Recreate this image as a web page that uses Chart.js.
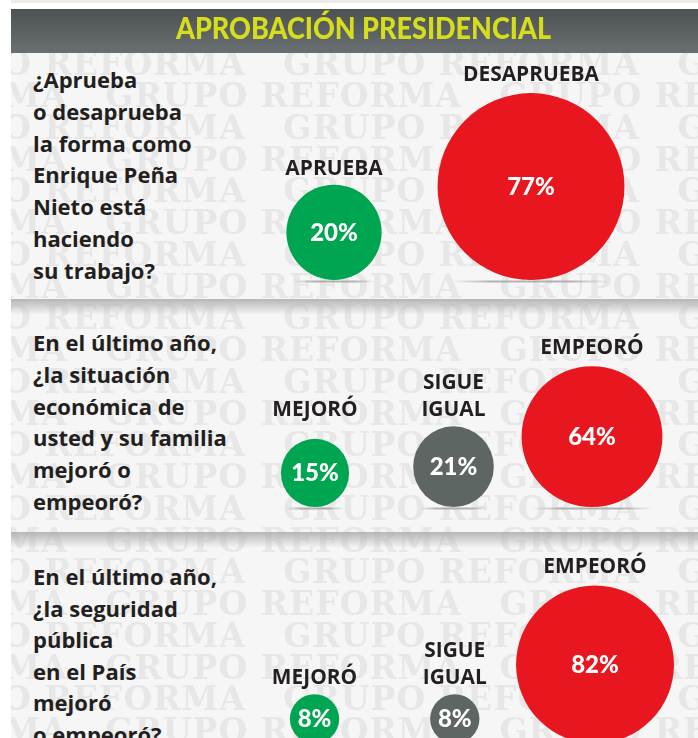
<!DOCTYPE html>
<html><head><meta charset="utf-8">
<script src="https://cdn.jsdelivr.net/npm/chart.js@4/dist/chart.umd.min.js"></script>
<style>
html,body{margin:0;padding:0;width:698px;height:738px;overflow:hidden;background:#fff;}
#wrap{position:relative;width:698px;height:738px;overflow:hidden;}
.strip{position:absolute;left:11px;top:0;width:687px;height:3px;background:#eeebe6;}
.header{position:absolute;left:11px;top:9px;width:687px;height:44px;background:linear-gradient(#4c5153,#6a6f71);}
#title{position:absolute;top:9px;height:44px;line-height:46px;color:#d5dd1c;font:900 30px 'Lato';white-space:nowrap;transform-origin:0 50%;}
#wm{position:absolute;left:11px;top:53px;width:687px;height:685px;background:#f6f6f6;overflow:hidden;}
.wmrow{position:absolute;white-space:nowrap;font:700 33px 'DejaVu Serif';color:#e7e7e7;letter-spacing:1px;line-height:34px;filter:blur(0.6px);}
.sep{position:absolute;left:11px;width:687px;height:16px;background:linear-gradient(rgba(175,175,175,0.9),rgba(246,246,246,0));}
.q{position:absolute;left:33px;font:700 22px 'Open Sans';color:#231f20;white-space:pre;}
canvas{position:absolute;left:0;}
</style></head>
<body><div id="wrap">
<div class="strip"></div>
<div class="header"></div>
<div id="title"></div>
<div id="wm"></div>
<div class="sep" style="top:299px"></div>
<div class="sep" style="top:532px"></div>
<div class="q" id="q1" style="top:64px;line-height:31.8px"></div>
<div class="q" id="q2" style="top:327px;line-height:31.8px"></div>
<div class="q" id="q3" style="top:561px;line-height:31.5px"></div>
<canvas id="c1"></canvas>
<canvas id="c2"></canvas>
<canvas id="c3"></canvas>
</div>
<script>
// ---- DATA ----
const chartTitle = 'APROBACIÓN PRESIDENCIAL';
const question1 = ['¿Aprueba', 'o desaprueba', 'la forma como', 'Enrique Peña', 'Nieto está', 'haciendo', 'su trabajo?'];
const categories1 = ['APRUEBA', 'DESAPRUEBA'];
const values1 = [20, 77];
const question2 = ['En el último año,', '¿la situación', 'económica de', 'usted y su familia', 'mejoró o', 'empeoró?'];
const categories2 = ['MEJORÓ', ['SIGUE', 'IGUAL'], 'EMPEORÓ'];
const values2 = [15, 21, 64];
const question3 = ['En el último año,', '¿la seguridad', 'pública', 'en el País', 'mejoró', 'o empeoró?'];
const categories3 = ['MEJORÓ', ['SIGUE', 'IGUAL'], 'EMPEORÓ'];
const values3 = [8, 8, 82];
const watermarkText = 'GRUPO REFORMA';

// ---- STYLE ----
const GREEN = '#00a551', RED = '#e8171f', GRAY = '#5e6664';
const colors1 = [GREEN, RED];
const colors23 = [GREEN, GRAY, RED];
const LABEL_FONT = "700 20.5px 'Open Sans'";
const VALUE_FONT = "900 24px 'Lato'";

// title
const t = document.getElementById('title');
t.textContent = chartTitle;
(function fitTitle(){
  const c = document.createElement('canvas').getContext('2d');
  c.font = "900 30px 'Lato'";
  const w = c.measureText(chartTitle).width;
  const target = 375, center = 363.5;
  t.style.left = (center - target/2) + 'px';
  t.style.transform = 'scaleX(' + (target / w) + ')';
})();

// questions
document.getElementById('q1').textContent = question1.join('\n');
document.getElementById('q2').textContent = question2.join('\n');
document.getElementById('q3').textContent = question3.join('\n');

// watermark
(function(){
  const wm = document.getElementById('wm');
  const line = Array(5).fill(watermarkText).join('\u00a0\u00a0\u00a0');
  for (let j = -2; j < 22; j++) {
    const d = document.createElement('div');
    d.className = 'wmrow';
    d.textContent = line;
    d.style.top = (96 + 31.75 * j - 17 - 53) + 'px';
    d.style.left = ((j % 2 === 0) ? -300 : -122) + 'px';
    wm.appendChild(d);
  }
})();

function stretchText(ctx, s, x, y, sx) {
  ctx.save();
  ctx.translate(x, y);
  ctx.scale(sx, 1);
  ctx.fillText(s, 0, 0);
  ctx.restore();
}

const bubblePlugin = {
  id: 'bubbleDecor',
  beforeDatasetsDraw(chart) {
    const ctx = chart.ctx;
    chart.getDatasetMeta(0).data.forEach(el => {
      const r = el.options.radius;
      const y = el.y + r + 1.5;
      const hw = r * 0.85;
      const g = ctx.createLinearGradient(el.x - hw, 0, el.x + hw, 0);
      g.addColorStop(0, 'rgba(150,150,150,0)');
      g.addColorStop(0.25, 'rgba(150,150,150,0.7)');
      g.addColorStop(0.75, 'rgba(150,150,150,0.7)');
      g.addColorStop(1, 'rgba(150,150,150,0)');
      ctx.save();
      ctx.fillStyle = g;
      ctx.fillRect(el.x - hw, y - 1, hw * 2, 2);
      ctx.restore();
    });
  },
  afterDatasetsDraw(chart) {
    const ctx = chart.ctx;
    const ds = chart.data.datasets[0];
    const els = chart.getDatasetMeta(0).data;
    const vals = ds.data.map(p => p.v);
    const maxV = Math.max(...vals);
    const smallTops = els.filter((e, i) => vals[i] !== maxV).map(e => e.y - e.options.radius);
    const smallRow = Math.min(...smallTops) - 16;
    ctx.save();
    ctx.textAlign = 'center';
    els.forEach((el, i) => {
      const r = el.options.radius;
      const top = el.y - r;
      const lbl = chart.data.labels[i];
      const lines = Array.isArray(lbl) ? lbl : [lbl];
      const yLast = vals[i] === maxV ? top - 18 : smallRow;
      ctx.fillStyle = '#231f20';
      ctx.font = LABEL_FONT;
      ctx.textBaseline = 'middle';
      lines.forEach((ln, j) => stretchText(ctx, ln, el.x, yLast - (lines.length - 1 - j) * 27, 1.02));
      ctx.fillStyle = '#ffffff';
      ctx.font = VALUE_FONT;
      ctx.textBaseline = 'alphabetic';
      ctx.fillText(vals[i] + '%', el.x, el.y + 8.5);
    });
    ctx.restore();
  }
};

function makePanel(id, cats, values, colors, k, cfg) {
  const canvas = document.getElementById(id);
  const W = 698, H = cfg.height;
  canvas.width = W; canvas.height = H;
  canvas.style.top = cfg.top + 'px';
  const base = cfg.baseline - cfg.top;
  const rOf = v => k * Math.sqrt(v);
  const pts = values.map((v, i) => ({ x: i, y: rOf(v), r: rOf(v), v: v }));
  new Chart(canvas, {
    type: 'bubble',
    data: { labels: cats, datasets: [{ data: pts, backgroundColor: colors, borderWidth: 0, clip: false }] },
    options: {
      responsive: false, animation: false, events: [],
      layout: { autoPadding: false, padding: { left: cfg.left, right: W - cfg.right, top: 0, bottom: H - base } },
      plugins: { legend: { display: false }, tooltip: { enabled: false } },
      scales: {
        x: { type: 'category', offset: true, display: false },
        y: { type: 'linear', min: 0, max: base, display: false }
      }
    },
    plugins: [bubblePlugin]
  });
}

makePanel('c1', categories1, values1, colors1, 10.65, { top: 53, height: 246, baseline: 280, left: 235.5, right: 629.5 });
makePanel('c2', categories2, values2, colors23, 8.8, { top: 299, height: 233, baseline: 507, left: 245.75, right: 661.25 });
makePanel('c3', categories3, values3, colors23, 8.72, { top: 532, height: 230, baseline: 743.5, left: 244.4, right: 665.15 });
</script>
</body></html>
